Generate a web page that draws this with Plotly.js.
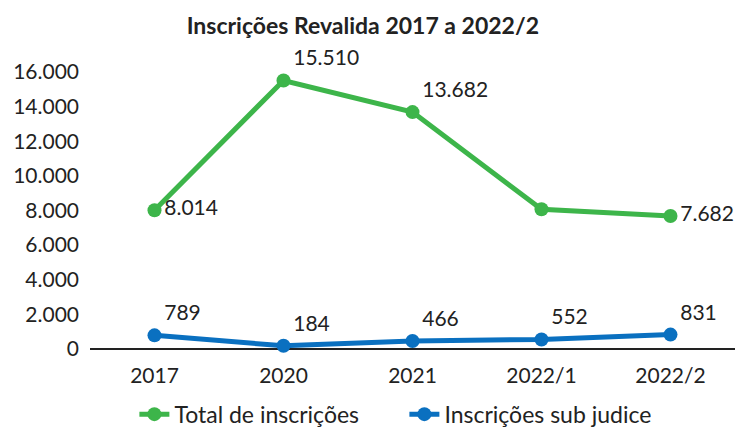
<!DOCTYPE html>
<html><head><meta charset="utf-8">
<script src="https://cdn.plot.ly/plotly-3.0.1.min.js"></script>
<style>body{margin:0;background:#fff}#c{width:742px;height:427px}</style>
</head><body><div id="c"></div>
<script>
const categories = ['2017', '2020', '2021', '2022/1', '2022/2'];
const totalValues = [8014, 15510, 13682, 8070, 7682];
const totalLabels = ['8.014', '15.510', '13.682', '', '7.682'];
const subJudiceValues = [789, 184, 466, 552, 831];
const subJudiceLabels = ['789', '184', '466', '552', '831'];
const seriesNames = ['Total de inscrições', 'Inscrições sub judice'];
const yTicks = [0, 2000, 4000, 6000, 8000, 10000, 12000, 14000, 16000];

const FONT = 'Lato, "Liberation Sans", sans-serif';
const green = '#3db54a', blue = '#0a70c0';

const traces = [
  {x: categories, y: totalValues, name: seriesNames[0], type: 'scatter', mode: 'lines+markers+text',
   text: totalLabels, textposition: ['middle right','top right','top right','top right','middle right'],
   textfont: {family: FONT, size: 21, color: '#222'},
   line: {color: green, width: 5}, marker: {color: green, size: 14}, cliponaxis: false},
  {x: categories, y: subJudiceValues, name: seriesNames[1], type: 'scatter', mode: 'lines+markers+text',
   text: subJudiceLabels, textposition: 'top right',
   textfont: {family: FONT, size: 21, color: '#222'},
   line: {color: blue, width: 5}, marker: {color: blue, size: 14}, cliponaxis: false}
];

const layout = {
  width: 742, height: 427,
  paper_bgcolor: '#fff', plot_bgcolor: '#fff',
  separators: ',.',
  margin: {l: 90, r: 7, t: 46, b: 78},
  font: {family: FONT, size: 21, color: '#222'},
  title: {text: '<b>Inscrições Revalida 2017 a 2022/2</b>', x: 0.489, xanchor: 'center', y: 0.94, yanchor: 'middle',
          font: {family: FONT, size: 23, color: '#222'}},
  xaxis: {type: 'category', range: [-0.5, 4.5], showgrid: false, zeroline: false, showline: false,
          ticks: '', ticklabelstandoff: 12, tickfont: {size: 21, color: '#222'}},
  yaxis: {range: [0, 17500], tickvals: yTicks, tickformat: ',d', showgrid: false, zeroline: true,
          zerolinecolor: '#222', zerolinewidth: 2, showline: false, ticks: '', ticklabelstandoff: 10,
          tickfont: {size: 21, color: '#222'}},
  showlegend: true,
  legend: {orientation: 'h', x: 0.545, xanchor: 'center', xref: 'container', yref: 'container', y: 0.03, yanchor: 'middle',
           font: {family: FONT, size: 23, color: '#222'}, itemwidth: 30, entrywidth: 225}
};

Plotly.newPlot('c', traces, layout, {displayModeBar: false, staticPlot: true});
</script></body></html>
